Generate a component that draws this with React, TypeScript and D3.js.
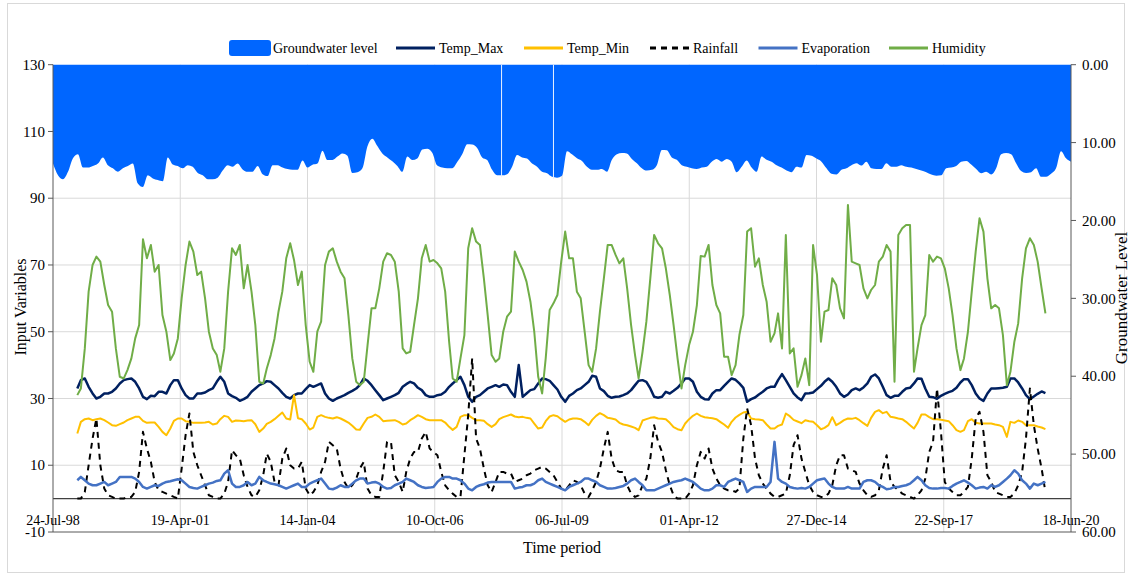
import React from 'react'
import * as d3 from 'd3'

// monthly values, Jan 1999 .. Nov 2019 (one row per year)
const humidity = [
  31, 33, 45, 62, 70, 72.5, 71, 64, 58, 56, 45, 36.5,
  36, 38.5, 42, 48, 52, 77.7, 72, 76, 68, 70, 55, 50,
  41.5, 43.5, 48, 60, 70, 77, 74, 67, 68, 60, 50, 45,
  43, 38, 45, 62, 75, 73, 76, 63, 70, 62, 52, 35,
  34.5, 39, 43, 48, 56, 62, 72, 76.5, 71.5, 64, 68, 52,
  41, 38, 50, 53, 70, 74, 75, 71, 68, 66, 55, 42,
  35, 34, 35, 46, 57, 57, 63, 71, 73.5, 73, 71, 62,
  45, 43.5, 44, 52, 60, 72, 76, 71, 71.5, 70.5, 69, 62,
  47, 36, 35, 42, 49, 75, 81, 77, 76, 66, 55, 43,
  41, 42, 50, 54.5, 56, 74, 71, 68.5, 65, 59, 50, 36.5,
  31.5, 42, 56.5, 58.5, 61, 71, 80, 72, 72, 62, 60, 50,
  40, 38, 45, 56, 66, 76, 76, 73, 70.5, 72, 63, 52,
  43, 36, 44, 53, 66, 79, 76.5, 75, 69, 61, 52, 42,
  33, 40, 46, 50, 58, 72.7, 72.5, 76, 64, 58, 55.5, 42.5,
  42.5, 37, 40, 49, 55, 80, 81, 69.5, 72, 64, 59, 47,
  49.5, 55.5, 45, 79, 43.5, 45, 33.5, 37, 42, 34, 76, 67,
  47, 56, 56.5, 66, 64, 57, 54, 88, 71, 70.5, 70, 63,
  60, 62.5, 64, 71, 72.5, 76, 74, 35, 79, 81, 82, 82,
  38, 45, 52, 55, 73, 71, 72.5, 72, 69, 63, 55, 45,
  38.5, 42, 50, 62, 74, 84, 80, 66, 57, 58, 57, 49,
  34, 38, 47, 52.5, 66, 75, 78, 76, 71, 63, 55.5
]

const tempMax = [
  33, 35.5, 36, 33.5, 31.5, 30, 30.5, 31.5, 31.5, 32, 33, 34.5,
  35.5, 35.8, 36, 35, 33, 30.5, 29.8, 30.8, 30.7, 32, 32, 31.5,
  34, 35.5, 35.5, 33, 31, 30, 30, 31.5, 31.5, 31.8, 32.5, 33,
  35, 36.5, 35, 31.5, 30.7, 30.2, 29.3, 29.8, 30.5, 32, 33, 34,
  34.5, 35.2, 35, 34, 33, 31.7, 30.5, 30, 31, 31.5, 31.5, 32.8,
  34, 33.5, 34, 34.5, 31.5, 30, 29.3, 30, 30.5, 31, 31.7, 32.3,
  33, 34, 36, 35.3, 34, 32.5, 31, 29.5, 30, 30.5, 31, 31.7,
  33.5, 34.3, 35, 34.5, 33.2, 32.5, 31, 30.5, 30.5, 31, 31.2, 32,
  33.5, 34.5, 35.5, 36.5, 34, 30.5, 29, 30.5, 31, 32, 33, 33.5,
  34, 33.5, 34.2, 34, 32, 30.5, 40, 30.5, 31.5, 32.5, 32.8, 34.5,
  36, 35.8, 35.3, 34, 32.7, 30.5, 29, 30.8, 31.5, 32.5, 33, 34,
  35, 36.8, 36.5, 33, 32.2, 30.8, 30.2, 30.5, 30.6, 31, 31.5, 32.5,
  34, 35.3, 35.5, 35, 33, 30.5, 30.2, 30.5, 32, 31.5, 32.3, 33.2,
  34.5, 36, 36, 35, 32, 30.5, 29.8, 29.7, 31.5, 32.5, 32.5, 33.8,
  35, 36, 35.6, 34.5, 33.2, 29, 29.8, 30.3, 31.2, 32, 33, 33.5,
  33.5, 35.5, 37.3, 35.5, 33.5, 31.5, 30.3, 29.5, 31.5, 31.6, 31.8, 32.8,
  33.8, 35, 36, 35, 33.5, 31.5, 30.5, 31.2, 32.5, 33, 32.5, 33.3,
  34.5, 36.5, 37.2, 36, 33.5, 31, 30.2, 30.8, 30.8, 32, 33, 33.2,
  34.5, 36, 35.9, 33, 30.5, 30.4, 29.9, 30.8, 31.4, 31.9, 32.3, 33.2,
  34.8, 35.8, 35.8, 34, 31.5, 30, 29.3, 31.5, 33, 33, 33.1, 33.2,
  33.5, 36, 36, 34.8, 33, 31, 29.8, 30.6, 31.4, 32.1, 31.6
]

const tempMin = [
  19.5, 23, 23.8, 24, 23.5, 23.8, 24, 23.5, 22.8, 22, 21.8, 22.3,
  22.8, 23.5, 24, 24.5, 24.5, 23.3, 22.7, 22.8, 22.8, 21.5, 20, 19,
  21, 23.3, 24, 24, 23.2, 23, 22.7, 22.7, 22.7, 22.8, 23, 22.2,
  22.5, 23.8, 24.8, 24.5, 23, 23.4, 23.3, 23.2, 23.4, 23.5, 22.3, 20,
  21, 22.4, 23, 23.8, 24.8, 25.8, 24, 23.7, 31, 24.1, 23.8, 22.5,
  20.7, 21.3, 24.5, 25, 24.5, 24.2, 24, 24.4, 24, 23.4, 22.8, 21.8,
  20.7, 20.6, 22.5, 24.2, 24.5, 25.2, 24.5, 23.2, 23.3, 23.4, 23.5, 23,
  22.2, 22.5, 23.5, 24.2, 25, 24.5, 23.8, 23.5, 23.5, 23.5, 23.5, 22.8,
  21.5, 20.6, 21.5, 24.5, 25, 25, 24.2, 23.5, 23.5, 23.3, 22.3, 21.5,
  22.3, 23.8, 24.4, 24.8, 25.2, 24.6, 24.4, 24.5, 24.2, 24, 22.5, 21,
  21.3, 23.2, 24.6, 25, 24.7, 23.8, 23, 23.7, 24, 24, 23.8, 23,
  22, 23.6, 24.8, 25.6, 25, 24.2, 24, 23.7, 22.7, 22.2, 22, 21.6,
  21.2, 20.5, 23.4, 23.8, 24.2, 24.4, 24, 23.9, 23.8, 22.7, 21.4, 20.8,
  20.5, 22.5, 23.8, 24.8, 25.5, 24.8, 24.4, 24.2, 24.1, 23.8, 23, 22.2,
  21.2, 23, 24.3, 25.1, 25.8, 26, 24, 23.8, 23.7, 23.5, 22.2, 21,
  21, 21.8, 22.2, 25.5, 24.7, 23.6, 23.1, 22.6, 23.5, 23.2, 23, 22,
  20.8, 21.2, 22, 24.4, 22, 22.7, 23.5, 24, 23.9, 24.2, 23.5, 22.6,
  21.8, 24.2, 26, 26.5, 25.6, 26, 24.5, 24.3, 24, 23.8, 23, 22,
  21, 22.7, 25.2, 25.2, 24.4, 23.8, 23.8, 23.6, 23.4, 23.2, 22, 20.5,
  20, 20.5, 23.2, 23.8, 22.7, 22.5, 22.5, 22.5, 22.5, 22.2, 22, 21.5,
  18.5, 23, 22.7, 23.4, 23, 22, 22, 22, 21.6, 21.3, 20.8
]

const rainfall = [
  0, 0, 2, 10, 18, 24, 10, 3, 1, 0.5, 0, 0,
  0, 0.5, 0.5, 2, 8, 20, 15, 11, 5, 2.5, 2, 1.5,
  1, 0.5, 0, 9, 19, 25.5, 14, 10, 7, 4, 1, 0.5,
  0, 0, 1.5, 5, 14.5, 13, 12, 7, 3.5, 1, 0.5, 2.5,
  7, 13.5, 11, 5, 4, 12, 15, 10, 9, 9, 11, 3,
  1, 2, 4, 8, 11, 17, 16, 15, 9, 5, 3, 4,
  6, 9, 11, 3, 1, 0.5, 0.5, 8, 17, 17, 7, 5,
  2, 8, 12, 14, 14, 18, 20, 15, 14, 13, 8, 4,
  2.5, 1.5, 0.5, 0.5, 13, 25, 42, 18, 15, 9, 4, 2,
  5, 8, 8, 7.5, 7.5, 5, 5.5, 6, 7, 7.5, 8.5, 9,
  9.5, 9, 8, 7, 5, 3, 2.5, 4, 5.5, 5, 4, 1.5,
  0.5, 2.5, 5, 9, 15, 20, 12, 8.5, 8, 8, 4, 1.5,
  0.5, 1, 4, 6, 12, 22, 17, 14, 8.5, 4, 1, 0,
  0, 0, 1.5, 4, 10, 14, 12, 15, 9, 6, 4, 3,
  2.5, 2.5, 2, 3, 18, 27, 22, 12, 7, 4.5, 3, 1.5,
  0.5, 0.5, 1, 1.5, 7, 16, 19, 12, 8, 4, 2, 1,
  0.5, 0.5, 1.5, 4, 10, 13, 13, 9, 8.5, 8, 4.5, 2.5,
  1, 0.5, 1, 2.5, 9, 13, 5, 3.5, 2.5, 1.5, 1, 0.5,
  0, 1, 2.5, 6, 14, 17, 33, 20, 5, 3, 2, 1,
  1, 2, 3.5, 12, 24, 26, 20, 7, 5, 2, 1.5, 1,
  0.5, 0.5, 1.5, 4, 8, 18, 33, 22, 15, 9, 2
]

const evaporation = [
  5.5, 6.5, 5.5, 4.5, 4, 4, 4.5, 5, 4, 4.5, 5, 6.5,
  6.5, 6.5, 6.5, 6, 5, 3.5, 3, 3.5, 4, 3.8, 4.5, 5,
  5.2, 5.5, 5.8, 5.5, 4.5, 3.5, 3.2, 3, 3.5, 4, 4.5, 4.8,
  5.3, 5.5, 7.5, 8.5, 4.5, 3.5, 3.5, 4, 5, 4, 4.5, 6.5,
  5.5, 5, 4.5, 4.3, 4, 3.5, 3, 3.5, 4, 4.5, 3.5, 3.5,
  4.5, 5, 5.5, 6, 4.5, 3, 2.8, 3.3, 4, 3.5, 3.5, 4.5,
  5.5, 6, 6, 4.5, 4.8, 5, 4.5, 3.5, 3, 3.2, 4, 4.5,
  5, 6, 5.5, 5, 4, 3.5, 3.2, 3.3, 3.5, 5, 6, 6.5,
  6.5, 6, 6, 5.5, 4.5, 3, 2.5, 3.5, 4, 4.3, 4.8, 5,
  5, 5, 5, 5, 5, 3, 3.3, 3.5, 4, 4, 4.5, 5.5,
  6, 5, 4.5, 4, 3.5, 3, 2.5, 3.5, 4, 4.5, 5, 6,
  6, 5.5, 5, 4, 3.5, 3, 3, 3.2, 3.5, 3.8, 4.5, 5.5,
  6, 5, 4, 2.5, 2.5, 2.5, 3, 3.5, 4, 4.5, 5, 5.3,
  5.5, 6, 5.5, 5, 4, 3, 2.5, 2.5, 3, 4, 4, 3.5,
  5, 5.5, 6, 5.5, 5, 2, 3, 3.5, 3.5, 3.5, 3.5, 5,
  17, 6, 5, 4.5, 3.5, 3.2, 3, 3.2, 3, 3.5, 4.5, 5.5,
  5.8, 6, 4.5, 3.5, 3, 3, 3, 3.5, 3, 3, 3, 5,
  5.5, 5.5, 5, 4, 3.5, 2.8, 3, 3.5, 3.5, 3.8, 4, 4.5,
  5.5, 6.5, 5.5, 4, 3.2, 3, 3, 3.2, 3.2, 3, 3.8, 4.5,
  5, 5.5, 4.8, 4, 3, 3.3, 3.5, 3, 4, 3.5, 4, 5,
  6, 7, 8.5, 7.5, 5.5, 4.5, 3, 4.5, 4, 4.5, 5
]

// groundwater depth (m, right axis), evenly sampled over the whole period
const groundwater = [
  12.7, 14.2, 14.7, 13.75, 12.0, 11.5, 13.2, 13.2, 13.0, 12.7,
  11.9, 12.9, 13.3, 13.75, 13.3, 13.0, 12.7, 15.25, 15.7, 14.2,
  14.6, 14.8, 14.95, 11.9, 12.8, 13.0, 13.3, 12.9, 13.1, 13.9,
  14.2, 14.7, 14.7, 14.5, 13.6, 12.9, 13.1, 12.7, 13.45, 13.75,
  13.75, 13.0, 14.05, 14.3, 12.9, 12.9, 13.2, 13.4, 13.5, 13.5,
  12.3, 13.2, 12.85, 12.7, 11.05, 12.25, 12.25, 11.8, 11.4, 11.7,
  13.9, 13.8, 13.3, 10.5, 9.5, 10.45, 11.4, 11.9, 12.4, 13.0,
  13.75, 11.8, 12.25, 12.05, 10.9, 10.8, 11.3, 12.95, 13.2, 13.3,
  13.3, 12.5, 11.5, 10.2, 10.25, 10.7, 11.9, 12.25, 13.5, 14.2,
  14.2, 14.05, 13.1, 11.6, 11.9, 12.05, 12.7, 13.1, 13.75, 13.95,
  14.4, 14.5, 14.25, 11.1, 11.5, 12.0, 12.35, 13.1, 13.5, 13.5,
  13.4, 13.75, 12.2, 11.5, 11.35, 11.4, 12.1, 12.65, 13.3, 13.6,
  13.5, 12.9, 10.95, 11.0, 11.9, 12.2, 12.9, 13.1, 13.3, 13.4,
  13.2, 13.1, 12.45, 12.1, 12.45, 12.1, 12.45, 13.8, 13.1, 12.3,
  13.2, 13.75, 11.8, 12.2, 12.45, 12.9, 13.2, 13.6, 13.8, 13.1,
  13.2, 11.6, 11.7, 12.05, 12.45, 13.3, 14.0, 14.1, 13.5, 13.3,
  12.9, 12.65, 12.95, 12.45, 13.3, 13.4, 13.4, 12.65, 13.1, 13.1,
  12.9, 13.1, 13.2, 13.4, 13.6, 13.8, 14.1, 14.25, 14.2, 13.3,
  13.2, 13.0, 12.45, 12.35, 12.8, 13.4, 13.95, 13.75, 14.1, 13.3,
  11.5, 11.35, 11.5, 12.65, 13.65, 13.9, 13.8, 13.3, 14.4, 14.4,
  14.0, 13.3, 11.1, 12.0, 12.45
]
// days with no groundwater reading (thin breaks in the area)
const gwBreaks = ['2008-03-18', '2009-04-30']

const leftTicks = [130, 110, 90, 70, 50, 30, 10, -10]
const rightTicks = [0, 10, 20, 30, 40, 50, 60]

const W = 1132
const H = 577
const PL = 53
const PR = 1071
const PT = 64.7
const PB = 532
const FONT = '"Liberation Serif", "Times New Roman", serif'

const series = [
  { name: 'Temp_Max', values: tempMax, color: '#002060', width: 2.5, dash: null },
  { name: 'Temp_Min', values: tempMin, color: '#ffc000', width: 2, dash: null },
  { name: 'Rainfall', values: rainfall, color: '#000000', width: 2, dash: '6,5' },
  { name: 'Evaporation', values: evaporation, color: '#4472c4', width: 2.5, dash: null },
  { name: 'Humidity', values: humidity, color: '#70ad47', width: 2, dash: null }
]
const legendX = [229, 396, 524, 650, 758.5, 889]

export default function App () {
  const axisStart = new Date(1998, 6, 24)
  const axisEnd = d3.timeDay.offset(axisStart, 8000)
  const dateTicks = d3.range(0, 9).map(i => d3.timeDay.offset(axisStart, 1000 * i))
  const fmt = d3.timeFormat('%d-%b-%y')

  // month-end dates for the weather series
  const months = d3.range(humidity.length).map(m => new Date(1999, m + 1, 0))

  const x = d3.scaleTime().domain([axisStart, axisEnd]).range([PL, PR])
  const yL = d3.scaleLinear().domain([-10, 130]).range([PB, PT])
  const yR = d3.scaleLinear().domain([0, 60]).range([PT, PB])
  const gwX = d3.scaleLinear().domain([0, groundwater.length - 1]).range([PL, PR])

  const gwArea = d3.area<number>()
    .x((d, i) => gwX(i))
    .y0(PT)
    .y1(d => yR(d))
    .curve(d3.curveMonotoneX)

  const line = d3.line<number>()
    .x((d, i) => x(months[i]))
    .y(d => yL(d))

  const parse = d3.timeParse('%Y-%m-%d')

  return (
    <div style={{ position: 'absolute', left: 0, top: 0 }}>
      <svg width={W} height={H} style={{ display: 'block', fontFamily: FONT }}>
        <rect x={0} y={0} width={W} height={H} fill='#fff' />
        <rect x={7.5} y={3.5} width={1117} height={569} fill='none' stroke='#d9d9d9' />

        {/* grid */}
        {leftTicks.filter(t => t !== 130 && t !== -10).map(t => (
          <line key={'h' + t} x1={PL} x2={PR} y1={yL(t)} y2={yL(t)} stroke='#d9d9d9' />
        ))}
        {dateTicks.slice(1, -1).map((d, i) => (
          <line key={'v' + i} x1={x(d)} x2={x(d)} y1={PT} y2={PB} stroke='#d9d9d9' />
        ))}

        {/* groundwater */}
        <path d={gwArea(groundwater) || ''} fill='#0066ff' />
        {gwBreaks.map(s => {
          const px = x(parse(s) as Date)
          const i = Math.round(gwX.invert(px))
          return <line key={s} x1={px} x2={px} y1={PT} y2={yR(groundwater[i]) + 2} stroke='#e8f0ff' strokeWidth={1} />
        })}

        {/* axes */}
        <line x1={PL} x2={PR} y1={yL(0)} y2={yL(0)} stroke='#404040' strokeWidth={1.2} />
        <line x1={PL} x2={PR} y1={PB} y2={PB} stroke='#595959' />
        <line x1={PL} x2={PL} y1={PT} y2={PB} stroke='#595959' />
        <line x1={PR} x2={PR} y1={PT} y2={PB} stroke='#595959' />

        {series.map(s => (
          <path key={s.name} d={line(s.values) || ''} fill='none' stroke={s.color}
            strokeWidth={s.width} strokeDasharray={s.dash || undefined} strokeLinejoin='round' />
        ))}

        {leftTicks.map(t => (
          <g key={'l' + t}>
            <line x1={PL - 5} x2={PL} y1={yL(t)} y2={yL(t)} stroke='#595959' />
            <text x={PL - 8} y={yL(t)} dy='0.35em' textAnchor='end' fontSize={15}>{t}</text>
          </g>
        ))}
        {rightTicks.map(t => (
          <g key={'r' + t}>
            <line x1={PR} x2={PR + 5} y1={yR(t)} y2={yR(t)} stroke='#595959' />
            <text x={PR + 11} y={yR(t)} dy='0.35em' fontSize={15}>{t.toFixed(2)}</text>
          </g>
        ))}
        {dateTicks.map((d, i) => (
          <text key={'d' + i} x={x(d)} y={520} dy='0.35em' textAnchor='middle' fontSize={14}>{fmt(d)}</text>
        ))}

        <text transform={`translate(20,307) rotate(-90)`} textAnchor='middle' dy='0.35em' fontSize={16}>Input Variables</text>
        <text transform={`translate(1121,298) rotate(-90)`} textAnchor='middle' dy='0.35em' fontSize={17}>Groundwater Level</text>
        <text x={562} y={547} textAnchor='middle' dy='0.35em' fontSize={16}>Time period</text>

        {/* legend */}
        <rect x={legendX[0]} y={40} width={42} height={16} rx={3} fill='#0066ff' />
        <text x={legendX[0] + 44} y={48} dy='0.35em' fontSize={14}>Groundwater level</text>
        {series.map((s, i) => (
          <g key={'lg' + s.name}>
            <line x1={legendX[i + 1]} x2={legendX[i + 1] + 39} y1={48} y2={48}
              stroke={s.color} strokeWidth={3} strokeDasharray={s.dash || undefined} />
            <text x={legendX[i + 1] + 43} y={48} dy='0.35em' fontSize={14}>{s.name}</text>
          </g>
        ))}
      </svg>
    </div>
  )
}
